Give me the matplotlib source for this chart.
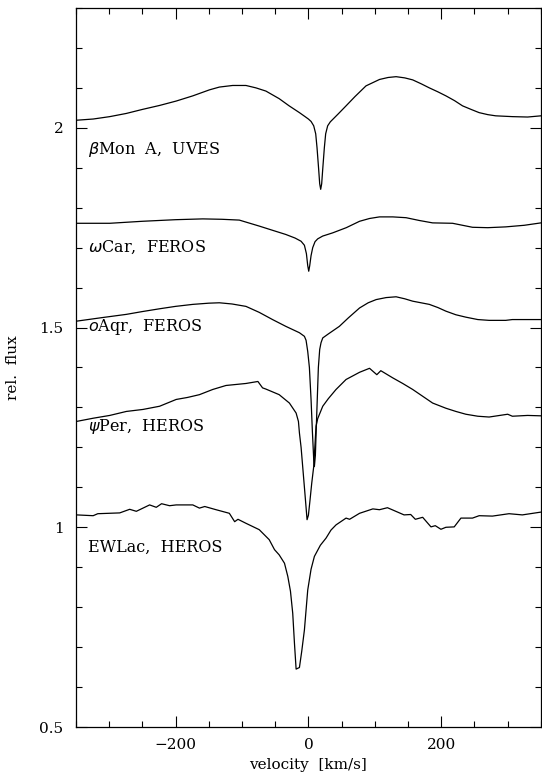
import numpy as np
import matplotlib
matplotlib.use('Agg')
import matplotlib.pyplot as plt
from matplotlib.ticker import MultipleLocator, FuncFormatter

plt.rcParams['font.family'] = ['DejaVu Serif']

# beta Mon A, UVES
v_bmon = [-349, -324, -299, -274, -250, -224, -199, -174, -149, -134, -114, -94, -79, -64, -44,
          -29, -13.5, -5, 0, 4, 8, 11, 13, 15.5, 17, 18.5, 20, 21.5, 24, 26, 29, 33, 45, 56.7,
          70, 86.7, 107, 120, 132, 145, 157, 170, 182, 195, 207, 220, 232, 245, 257, 270, 282,
          307, 330, 350]
f_bmon = [2.019, 2.022, 2.028, 2.036, 2.046, 2.056, 2.067, 2.08, 2.095, 2.102, 2.106, 2.106,
          2.1, 2.092, 2.073, 2.055, 2.038, 2.028, 2.022, 2.016, 2.005, 1.985, 1.95, 1.895, 1.86,
          1.846, 1.86, 1.895, 1.95, 1.985, 2.005, 2.015, 2.035, 2.055, 2.078, 2.105, 2.121,
          2.126, 2.128, 2.125, 2.12, 2.11, 2.10, 2.09, 2.08, 2.068, 2.055, 2.046, 2.038, 2.033,
          2.03, 2.028, 2.027, 2.03]

# omega Car, FEROS
v_wcar = [-349, -299, -250, -200, -159, -130, -104, -90, -74, -55, -34, -20, -11, -6, -3, -1,
          0.5, 2, 4, 6.5, 10, 14, 21.5, 36.5, 57, 77, 92, 107, 127, 147, 167, 187, 217, 247,
          270, 297, 325, 350]
f_wcar = [1.761, 1.761, 1.766, 1.770, 1.772, 1.771, 1.769, 1.762, 1.754, 1.744, 1.733, 1.724,
          1.716, 1.706, 1.685, 1.655, 1.641, 1.655, 1.68, 1.70, 1.715, 1.722, 1.729, 1.737,
          1.75, 1.766, 1.773, 1.777, 1.777, 1.775, 1.768, 1.762, 1.761, 1.751, 1.75, 1.752,
          1.756, 1.762]

# omicron Aqr, FEROS
v_oaqr = [-349, -310, -274, -250, -224, -200, -174, -150, -134, -115, -94, -74, -54, -34, -13.5,
          -6, -3.5, -1, 1.5, 4, 6, 8, 9, 10.5, 12.5, 15, 17, 19, 21.6, 30, 46.6, 60, 77, 90, 102,
          117, 132, 145, 157, 182, 195, 207, 222, 237, 255, 272, 297, 307, 350]
f_oaqr = [1.516, 1.525, 1.533, 1.54, 1.547, 1.553, 1.558, 1.561, 1.562, 1.559, 1.553, 1.538,
          1.52, 1.503, 1.487, 1.478, 1.468, 1.44, 1.40, 1.32, 1.24, 1.17, 1.152, 1.18, 1.28,
          1.40, 1.445, 1.462, 1.474, 1.484, 1.503, 1.524, 1.549, 1.562, 1.57, 1.575, 1.577,
          1.572, 1.566, 1.558, 1.55, 1.541, 1.532, 1.526, 1.52, 1.518, 1.518, 1.52, 1.52]

# psi Per, HEROS
v_pper = [-349, -324, -299, -274, -249, -224, -199, -182, -164, -144, -124, -94, -76, -69, -64,
          -44, -28.6, -18.5, -15, -13.5, -11, -8.6, -5, -2, 0, 2.5, 5, 8, 11.5, 14, 21.6, 30,
          41.6, 56.7, 77, 92, 103, 109, 127, 142, 157, 172, 187, 207, 222, 237, 255, 272, 300,
          307, 330, 350]
f_pper = [1.265, 1.273, 1.28, 1.29, 1.295, 1.303, 1.32, 1.325, 1.332, 1.345, 1.355, 1.36, 1.365,
          1.349, 1.346, 1.332, 1.311, 1.286, 1.265, 1.236, 1.2, 1.152, 1.08, 1.019, 1.03, 1.069,
          1.11, 1.152, 1.253, 1.272, 1.303, 1.322, 1.345, 1.37, 1.388, 1.398, 1.382, 1.392,
          1.374, 1.36, 1.345, 1.328, 1.311, 1.298, 1.29, 1.283, 1.278, 1.276, 1.283, 1.278,
          1.28, 1.279]

# EW Lac, HEROS
v_ewl = [-349, -324, -317, -284, -269, -259, -239, -229, -221, -209, -199, -174, -164, -156, -139,
         -119, -111, -106, -94, -74, -59, -51, -44, -36, -31, -27, -23.6, -21, -18.5, -13.5, -10,
         -6, -1, 4, 9, 18, 26.6, 34, 41.6, 56.7, 62, 77, 97, 107, 119, 126, 144, 154, 161, 172,
         184.5, 191, 199.5, 207, 219.5, 229.6, 247, 257, 277, 302, 322, 350]
f_ewl = [1.031, 1.029, 1.034, 1.036, 1.045, 1.04, 1.056, 1.05, 1.059, 1.054, 1.056, 1.056, 1.048,
         1.052, 1.044, 1.035, 1.014, 1.02, 1.01, 0.994, 0.969, 0.944, 0.931, 0.91, 0.877, 0.84,
         0.785, 0.71, 0.645, 0.649, 0.69, 0.743, 0.843, 0.895, 0.927, 0.955, 0.973, 0.993,
         1.006, 1.023, 1.02, 1.035, 1.046, 1.044, 1.049, 1.044, 1.031, 1.032, 1.02, 1.025,
         1.001, 1.004, 0.995, 1.0, 1.001, 1.023, 1.023, 1.029, 1.028, 1.034, 1.031, 1.038]

labels = [r'$\beta$Mon  A,  UVES', r'$\omega$Car,  FEROS', r'$o$Aqr,  FEROS',
          r'$\psi$Per,  HEROS', 'EWLac,  HEROS']
label_y = [1.946, 1.70, 1.502, 1.252, 0.951]

fig = plt.figure(figsize=(5.42, 7.74), dpi=100)
ax = fig.add_axes([0.140, 0.0607, 0.858, 0.929])

for v, f in [(v_bmon, f_bmon), (v_wcar, f_wcar), (v_oaqr, f_oaqr), (v_pper, f_pper), (v_ewl, f_ewl)]:
    ax.plot(v, f, color='black', lw=0.9)

for lab, y in zip(labels, label_y):
    ax.text(-332, y, lab, fontsize=11.5, va='center', ha='left')

ax.set_xlim(-350, 350)
ax.set_ylim(0.5, 2.3)
ax.xaxis.set_major_locator(MultipleLocator(200))
ax.xaxis.set_minor_locator(MultipleLocator(50))
ax.yaxis.set_major_locator(MultipleLocator(0.5))
ax.yaxis.set_minor_locator(MultipleLocator(0.1))
ax.yaxis.set_major_formatter(FuncFormatter(lambda x, p: '%g' % x))
ax.xaxis.set_major_formatter(FuncFormatter(lambda x, p: ('%g' % x).replace('-', '\u2212')))
ax.tick_params(which='both', direction='in', top=True, right=True, labelsize=11, width=0.8)
ax.tick_params(which='major', length=8)
ax.tick_params(which='minor', length=4.5)
ax.tick_params(axis='y', pad=9)
ax.tick_params(axis='x', pad=8)
for s in ax.spines.values():
    s.set_linewidth(0.9)

ax.set_xlabel('velocity  [km/s]', fontsize=11, labelpad=4)
ax.set_ylabel('rel.  flux', fontsize=11, labelpad=14)

fig.savefig('out.png', dpi=100)
